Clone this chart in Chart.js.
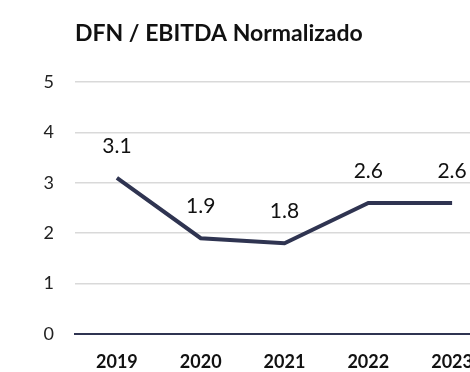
<!DOCTYPE html>
<html>
<head>
<meta charset="utf-8">
<script src="https://cdn.jsdelivr.net/npm/chart.js@4/dist/chart.umd.min.js"></script>
<style>
  html, body { margin: 0; padding: 0; background: #fff; overflow: hidden; }
  #wrap { width: 500px; height: 372px; }
</style>
</head>
<body>
<div id="wrap"><canvas id="chart" width="500" height="372"></canvas></div>
<script>
// Chart data
const years = ['2019', '2020', '2021', '2022', '2023'];
const ratio = [3.1, 1.9, 1.8, 2.6, 2.6];
const yTicks = [0, 1, 2, 3, 4, 5];
const chartTitle = 'DFN / EBITDA Normalizado';

const lineColor = '#2f3451';
const fontFamily = "Lato, 'Open Sans', sans-serif";

// Draws the title and the value above each point
const labelPlugin = {
    id: 'labels',
    afterDraw(chart) {
        const ctx = chart.ctx;
        ctx.save();
        ctx.fillStyle = '#111';
        ctx.font = 'bold 23px ' + fontFamily;
        ctx.textAlign = 'left';
        ctx.textBaseline = 'middle';
        ctx.fillText(chartTitle, 75, 34);

        ctx.font = '21px ' + fontFamily;
        ctx.textAlign = 'center';
        const meta = chart.getDatasetMeta(0);
        meta.data.forEach((pt, i) => {
            ctx.fillText(ratio[i].toFixed(1), pt.x, pt.y - 32);
        });
        ctx.restore();
    }
};

const ctx = document.getElementById('chart').getContext('2d');
const chart = new Chart(ctx, {
    type: 'line',
    data: {
        labels: years,
        datasets: [{
            data: ratio,
            borderColor: lineColor,
            borderWidth: 4,
            pointRadius: 0,
            tension: 0,
            fill: false
        }]
    },
    options: {
        responsive: false,
        animation: false,
        layout: { padding: { top: 82, right: 6, left: 0, bottom: 0 } },
        plugins: {
            legend: { display: false },
            tooltip: { enabled: false }
        },
        scales: {
            x: {
                offset: true,
                grid: { display: false, drawTicks: false },
                border: { display: true, color: lineColor, width: 2 },
                ticks: {
                    color: '#111',
                    font: { family: fontFamily, size: 18, weight: 'bold' },
                    padding: 17,
                    maxRotation: 0
                },
                afterFit(scale) { scale.height = 38; }
            },
            y: {
                min: 0,
                max: 5,
                afterBuildTicks(scale) {
                    scale.ticks = yTicks.map(v => ({ value: v }));
                },
                grid: { color: '#d9d9d9', lineWidth: 1.5, drawTicks: false },
                border: { display: false },
                ticks: {
                    color: '#222',
                    font: { family: fontFamily, size: 18 },
                    padding: 21
                },
                afterFit(scale) { scale.width = 75; }
            }
        }
    },
    plugins: [labelPlugin]
});
</script>
</body>
</html>
